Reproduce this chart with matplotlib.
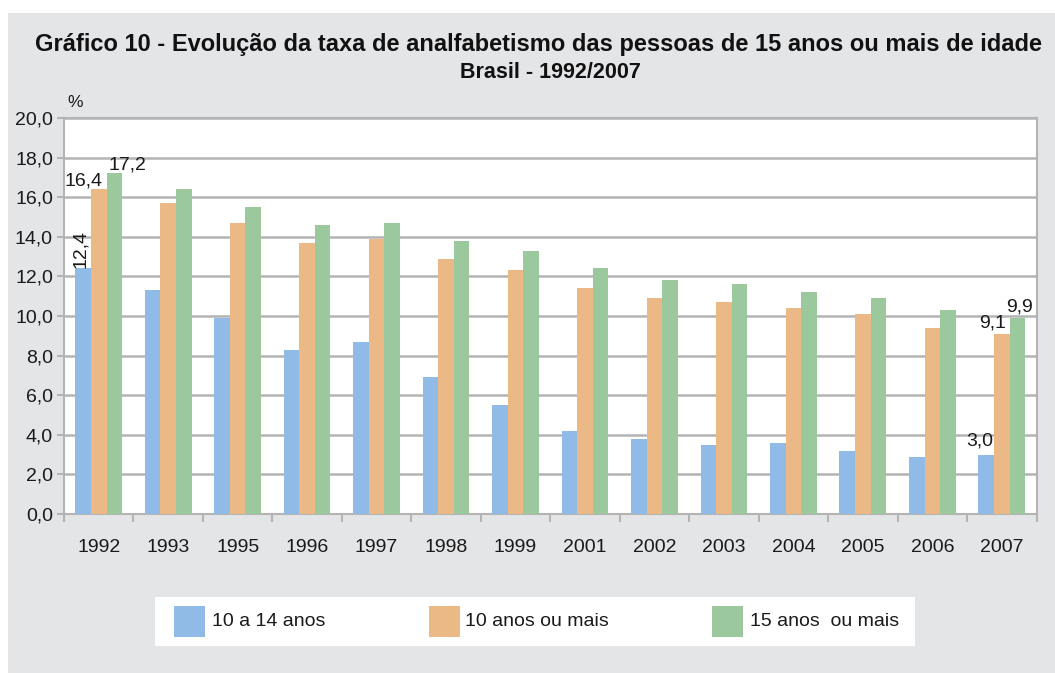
import matplotlib
matplotlib.use("Agg")
import matplotlib.pyplot as plt
from matplotlib.patches import Rectangle
import numpy as np

plt.rcParams['font.family'] = ['Liberation Sans', 'DejaVu Sans']

years = ["1992", "1993", "1995", "1996", "1997", "1998", "1999",
         "2001", "2002", "2003", "2004", "2005", "2006", "2007"]
s_10_14 = [12.4, 11.3, 9.9, 8.3, 8.7, 6.9, 5.5, 4.2, 3.8, 3.5, 3.6, 3.2, 2.9, 3.0]
s_10_mais = [16.4, 15.7, 14.7, 13.7, 13.9, 12.9, 12.3, 11.4, 10.9, 10.7, 10.4, 10.1, 9.4, 9.1]
s_15_mais = [17.2, 16.4, 15.5, 14.6, 14.7, 13.8, 13.3, 12.4, 11.8, 11.6, 11.2, 10.9, 10.3, 9.9]
series_labels = ["10 a 14 anos", "10 anos ou mais", "15 anos  ou mais"]
yticks = [0, 2, 4, 6, 8, 10, 12, 14, 16, 18, 20]
title1 = "Gráfico 10 - Evolução da taxa de analfabetismo das pessoas de 15 anos ou mais de idade"
title2 = "Brasil - 1992/2007"

colors = ["#8fbbe6", "#ebb986", "#9bc89d"]
bg = "#e4e5e7"
grid_c = "#b4b4b4"
txt_c = "#1a1a1a"
fs = 14

W, H = 1055, 673
fig = plt.figure(figsize=(W / 100, H / 100), dpi=100, facecolor="white")
fig.add_artist(Rectangle((8 / W, 0), 1 - 8 / W, (H - 13) / H, transform=fig.transFigure,
                         facecolor=bg, edgecolor="none", zorder=0))

ax = fig.add_axes([64 / W, (H - 514) / H, (1036.5 - 64) / W, (514 - 118) / H])
ax.set_facecolor("white")
x = np.arange(len(years))
bw = 0.224
data = [s_10_14, s_10_mais, s_15_mais]
for i, (vals, c) in enumerate(zip(data, colors)):
    ax.bar(x + (i - 1) * bw, vals, bw, color=c, zorder=3, linewidth=0)

ax.set_xlim(-0.5, len(years) - 0.5)
ax.set_ylim(0, 20)
ax.set_yticks(yticks)
ax.set_yticklabels([f"{v:.1f}".replace(".", ",") for v in yticks], fontsize=fs, color=txt_c)
ax.set_xticks(x)
ax.set_xticklabels(years, fontsize=fs, color=txt_c)
ax.set_xticks(np.arange(-0.5, len(years) + 0.5, 1), minor=True)
ax.tick_params(axis="x", which="major", length=0, pad=18)
ax.tick_params(axis="x", which="minor", length=6, color=grid_c, width=1.5)
ax.tick_params(axis="y", length=5, color=grid_c, width=1.5, pad=3)
ax.yaxis.grid(True, color=grid_c, linewidth=1.8, zorder=1)
for s in ax.spines.values():
    s.set_color(grid_c)
    s.set_linewidth(1.5)

fmt = lambda v: f"{v:.1f}".replace(".", ",")
# labels for 1992
ax.annotate(fmt(s_10_14[0]), (x[0] - bw - 0.045, s_10_14[0]), xytext=(0, 0), textcoords="offset points",
            rotation=90, ha="center", va="bottom", fontsize=fs, color=txt_c, zorder=5)
ax.annotate(fmt(s_10_mais[0]), (x[0] + 0.05, s_10_mais[0]), xytext=(0, 0), textcoords="offset points",
            ha="right", va="bottom", fontsize=fs, color=txt_c, zorder=5)
ax.annotate(fmt(s_15_mais[0]), (x[0] + bw / 2 + 0.03, s_15_mais[0]), xytext=(0, 0), textcoords="offset points",
            ha="left", va="bottom", fontsize=fs, color=txt_c, zorder=5)
# labels for 2007
n = len(years) - 1
ax.annotate(fmt(s_10_14[n]), (x[n] - bw - 0.094, s_10_14[n]), xytext=(0, 3.5), textcoords="offset points",
            ha="center", va="bottom", fontsize=fs, color=txt_c, zorder=5)
ax.annotate(fmt(s_10_mais[n]), (x[n] - 0.137, s_10_mais[n]), xytext=(0, 1.5), textcoords="offset points",
            ha="center", va="bottom", fontsize=fs, color=txt_c, zorder=5)
ax.annotate(fmt(s_15_mais[n]), (x[n] + bw + 0.03, s_15_mais[n]), xytext=(0, 2), textcoords="offset points",
            ha="center", va="bottom", fontsize=fs, color=txt_c, zorder=5)

ax.text(0.003, 1.02, "%", transform=ax.transAxes, ha="left", va="bottom", fontsize=12.5, color=txt_c)

fig.text(539 / W, 1 - 45 / H, title1, ha="center", va="center", fontsize=17,
         fontweight="bold", color="#111111")
fig.text(550 / W, 1 - 72 / H, title2, ha="center", va="center", fontsize=15.5,
         fontweight="bold", color="#111111")

# legend box
fig.add_artist(Rectangle((155 / W, 1 - 646 / H), (915 - 155) / W, (646 - 597) / H,
                         transform=fig.transFigure, facecolor="white", edgecolor="none", zorder=1))
patch_x = [174, 429, 712]
text_x = [212, 465, 750]
for px, tx, c, lab in zip(patch_x, text_x, colors, series_labels):
    fig.add_artist(Rectangle((px / W, 1 - 637 / H), 31 / W, 31 / H, transform=fig.transFigure,
                             facecolor=c, edgecolor="none", zorder=2))
    fig.text(tx / W, 1 - 621 / H, lab, ha="left", va="center", fontsize=fs, color=txt_c, zorder=3)

fig.savefig("out.png", dpi=100, facecolor=fig.get_facecolor())
